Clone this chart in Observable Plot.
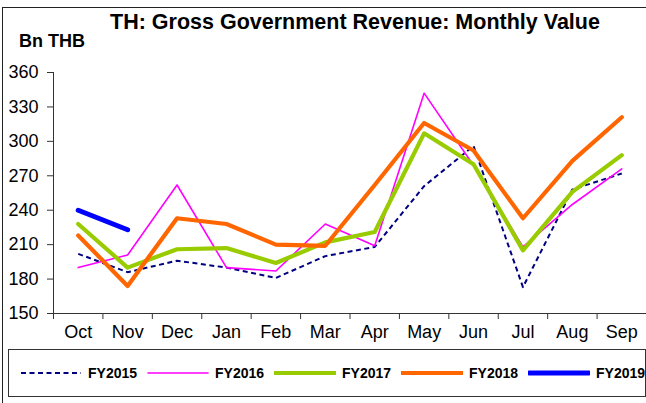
<!DOCTYPE html>
<html>
<head>
<meta charset="utf-8">
<script src="https://cdn.jsdelivr.net/npm/d3@7"></script>
<script src="https://cdn.jsdelivr.net/npm/@observablehq/plot@0.6"></script>
<style>
  html, body { margin: 0; padding: 0; background: #fff; }
  #wrap { position: relative; width: 646px; height: 403px; overflow: hidden; background: #fff;
          font-family: "Liberation Sans", Arial, sans-serif; color: #000; }
  #frame { position: absolute; left: 2px; top: 7px; width: 700px; height: 420px; border: 1px solid #222; box-sizing: border-box; }
  #title { position: absolute; left: 0; width: 710px; top: 10px; text-align: center; font-weight: bold; font-size: 21.5px; white-space: nowrap; }
  #unit { position: absolute; left: 19px; top: 31px; font-weight: bold; font-size: 18px; white-space: nowrap; }
  #chart { position: absolute; left: 0; top: 0; }
  #legend { position: absolute; left: 8px; top: 349px; width: 638px; height: 48px; border: 1px solid #333; box-sizing: border-box; }
  .item { position: absolute; top: 0; height: 46px; display: flex; align-items: center; }
  .item span { font-weight: bold; font-size: 14px; margin-left: 6px; white-space: nowrap; }
</style>
</head>
<body>
<div id="wrap">
  <div id="frame"></div>
  <div id="title">TH: Gross Government Revenue: Monthly Value</div>
  <div id="unit">Bn THB</div>
  <div id="chart"></div>
  <div id="legend"></div>
</div>
<script>
const months = ["Oct", "Nov", "Dec", "Jan", "Feb", "Mar", "Apr", "May", "Jun", "Jul", "Aug", "Sep"];
const yTicks = [150, 180, 210, 240, 270, 300, 330, 360];

const fy2015 = [202, 186, 196, 190, 181, 200, 208, 261, 296, 173, 258, 272];
const fy2016 = [190, 201, 262, 190, 187, 228, 209, 342, 279, 208, 245, 276];
const fy2017 = [228, 190, 206, 207, 194, 212, 221, 307, 280, 205, 256, 288];
const fy2018 = [218, 174, 233, 228, 210, 209, 262, 316, 292, 233, 283, 321];
const fy2019 = [240, 223];

const seriesNames = ["FY2015", "FY2016", "FY2017", "FY2018", "FY2019"];
const seriesValues = [fy2015, fy2016, fy2017, fy2018, fy2019];
const seriesStyles = [
  {stroke: "#000080", strokeWidth: 2, strokeDasharray: "5,3.5", strokeLinecap: "butt"},
  {stroke: "#ff00ff", strokeWidth: 1.6, strokeLinecap: "round"},
  {stroke: "#99cc00", strokeWidth: 4.2, strokeLinecap: "round", strokeLinejoin: "round"},
  {stroke: "#ff6600", strokeWidth: 4.2, strokeLinecap: "round", strokeLinejoin: "round"},
  {stroke: "#0000ff", strokeWidth: 5, strokeLinecap: "round"}
];

const rows = seriesValues.map((vals) => vals.map((v, i) => ({i, v})));
const boundaries = months.map((_, i) => i - 0.5).concat([months.length - 0.5]);

const chart = Plot.plot({
  width: 646,
  height: 345,
  marginLeft: 53,
  marginRight: 0,
  marginTop: 72,
  marginBottom: 32,
  x: {domain: [-0.5, months.length - 0.5], label: null},
  y: {domain: [150, 360], label: null},
  style: {fontFamily: "'Liberation Sans', Arial, sans-serif", color: "#000", background: "transparent", overflow: "visible"},
  marks: [
    Plot.axisY({ticks: yTicks, label: null, tickSize: 6, tickPadding: 9, fontSize: 18, stroke: "#333"}),
    Plot.axisX({ticks: boundaries, label: null, tickSize: 6, tickFormat: () => "", stroke: "#333"}),
    Plot.axisX({ticks: months.map((_, i) => i), label: null, tickSize: 0, tickPadding: 12, fontSize: 18, tickFormat: (i) => months[i]}),
    Plot.ruleX([-0.5], {stroke: "#333"}),
    Plot.ruleY([150], {stroke: "#333"}),
    ...rows.map((r, k) => Plot.line(r, {x: "i", y: "v", ...seriesStyles[k]}))
  ]
});
document.getElementById("chart").appendChild(chart);

const legend = document.getElementById("legend");
seriesNames.forEach((name, k) => {
  const st = seriesStyles[k];
  const item = document.createElement("div");
  item.className = "item";
  item.style.left = (11 + k * 127) + "px";
  const ns = "http://www.w3.org/2000/svg";
  const svg = document.createElementNS(ns, "svg");
  svg.setAttribute("width", 62);
  svg.setAttribute("height", 10);
  const line = document.createElementNS(ns, "line");
  line.setAttribute("x1", 1); line.setAttribute("x2", 61);
  line.setAttribute("y1", 5); line.setAttribute("y2", 5);
  line.setAttribute("stroke", st.stroke);
  line.setAttribute("stroke-width", st.strokeWidth);
  if (st.strokeDasharray) line.setAttribute("stroke-dasharray", st.strokeDasharray);
  line.setAttribute("stroke-linecap", st.strokeLinecap || "butt");
  svg.appendChild(line);
  const span = document.createElement("span");
  span.textContent = name;
  item.appendChild(svg);
  item.appendChild(span);
  legend.appendChild(item);
});
</script>
</body>
</html>
